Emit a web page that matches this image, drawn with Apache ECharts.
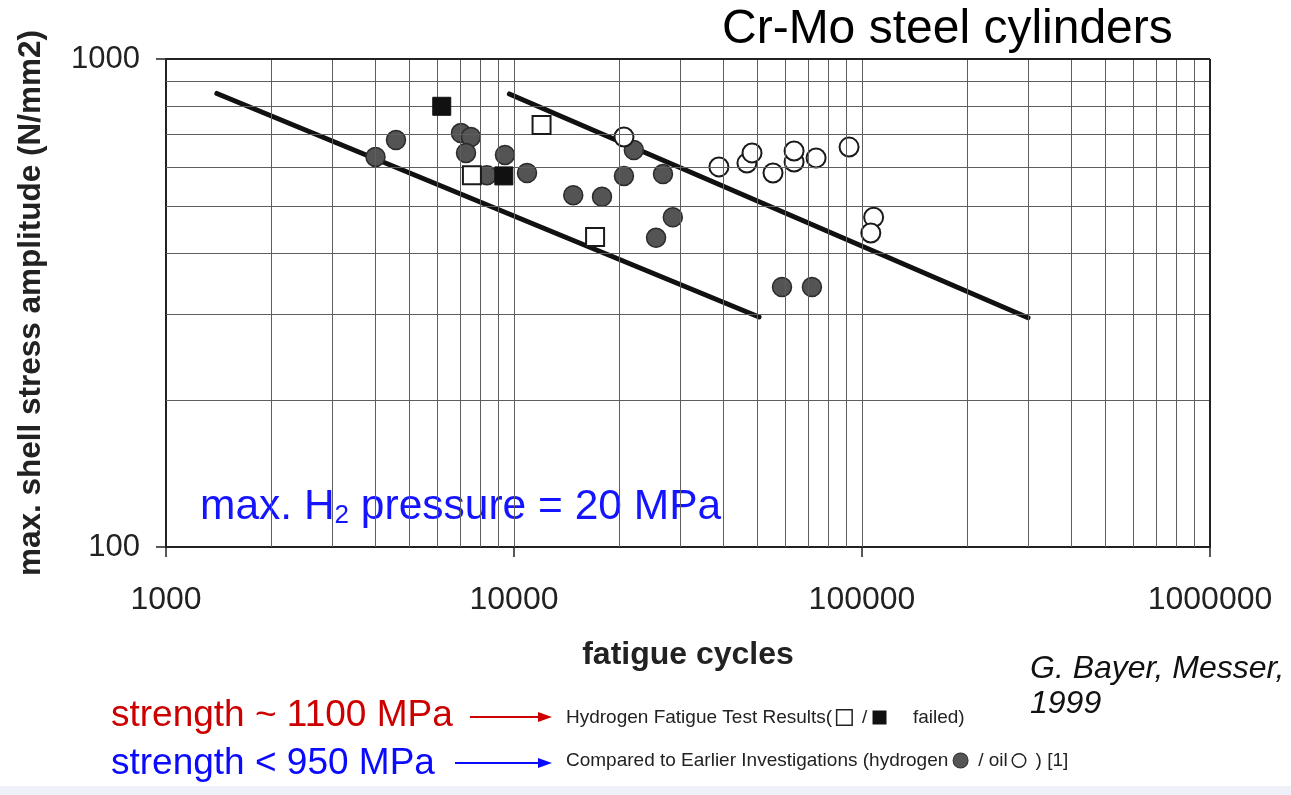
<!DOCTYPE html>
<html>
<head>
<meta charset="utf-8">
<script src="https://cdn.jsdelivr.net/npm/echarts@6/dist/echarts.min.js"></script>
<style>
  html, body { margin: 0; padding: 0; background: #ffffff; }
  #chart { width: 1291px; height: 795px; }
</style>
</head>
<body>
<div id="chart"></div>
<script>
// Axis ticks and grid positions (fatigue cycles, stress amplitude in N/mm2)
const xTickValues = [1000, 10000, 100000, 1000000];
const yTickValues = [100, 1000];
const xGridValues = [2000, 3000, 4000, 5000, 6000, 7000, 8000, 9000, 10000,
  20000, 30000, 40000, 50000, 60000, 70000, 80000, 90000, 100000,
  200000, 300000, 400000, 500000, 600000, 700000, 800000, 900000];
const yGridValues = [200, 300, 400, 500, 600, 700, 800, 900];

// Hydrogen fatigue test results: failed (filled) and open squares
const failedSquares = [[6200, 800], [9350, 576]];
const testSquares = [[7570, 578], [12000, 732], [17100, 432]];

// Earlier investigations: hydrogen (grey) and oil (open) circles
const hydrogenCircles = [
  [4000, 630], [4580, 682], [7040, 705], [7520, 692], [7280, 642],
  [8360, 578], [9420, 636], [10900, 584], [14800, 526], [17900, 522],
  [20700, 576], [22100, 651], [26800, 581], [28600, 474], [25600, 430],
  [58900, 341], [71800, 341]
];
const oilCircles = [
  [20700, 692], [38800, 601], [46700, 612], [48300, 642], [55500, 584],
  [63800, 615], [63800, 648], [73800, 627], [91800, 660], [108000, 474],
  [106000, 440]
];

// Scatter band boundaries
const lowerBand = [[1400, 850], [50600, 296]];
const upperBand = [[9700, 848], [300000, 295]];

const FONT = '"Liberation Sans", Arial, Helvetica, sans-serif';

const chart = echarts.init(document.getElementById('chart'), null, { renderer: 'canvas' });

const gridLines = []
  .concat(xGridValues.map(v => ({ xAxis: v })))
  .concat(yGridValues.map(v => ({ yAxis: v })))
  .concat([
    { yAxis: 1000, lineStyle: { color: '#222', width: 2 } },
    { xAxis: 1000000, lineStyle: { color: '#222', width: 2 } }
  ]);

const option = {
  backgroundColor: '#ffffff',
  animation: false,
  grid: { left: 166, top: 59, width: 1044, height: 488, containLabel: false },
  xAxis: {
    type: 'log',
    logBase: 10,
    min: xTickValues[0],
    max: xTickValues[xTickValues.length - 1],
    axisLine: { show: true, onZero: false, lineStyle: { color: '#222', width: 2 } },
    axisTick: { show: true, inside: false, length: 10, lineStyle: { color: '#222', width: 1.5 } },
    axisLabel: {
      color: '#222', fontFamily: FONT, fontSize: 32, margin: 37,
      formatter: v => String(Math.round(v))
    },
    splitLine: { show: false },
    name: 'fatigue cycles',
    nameLocation: 'middle',
    nameGap: 92,
    nameTextStyle: { color: '#222', fontFamily: FONT, fontSize: 32, fontWeight: 'bold' }
  },
  yAxis: {
    type: 'log',
    logBase: 10,
    min: yTickValues[0],
    max: yTickValues[yTickValues.length - 1],
    axisLine: { show: true, onZero: false, lineStyle: { color: '#222', width: 2 } },
    axisTick: { show: true, inside: false, length: 10, lineStyle: { color: '#222', width: 1.5 } },
    axisLabel: {
      color: '#222', fontFamily: FONT, fontSize: 31, margin: 26,
      formatter: v => String(Math.round(v))
    },
    splitLine: { show: false },
    name: 'max. shell stress amplitude (N/mm2)',
    nameLocation: 'middle',
    nameRotate: 90,
    nameGap: 119,
    nameTextStyle: { color: '#222', fontFamily: FONT, fontSize: 31.5, fontWeight: 'bold' }
  },
  series: [
    {
      name: 'grid',
      type: 'scatter',
      data: [],
      silent: true,
      z: 1,
      markLine: {
        silent: true,
        symbol: 'none',
        animation: false,
        label: { show: false },
        lineStyle: { color: '#5e5e5e', width: 1, type: 'solid' },
        data: gridLines
      }
    },
    {
      name: 'lower band',
      type: 'line',
      data: lowerBand,
      symbol: 'none',
      z: 3,
      lineStyle: { color: '#111', width: 5, cap: 'round' }
    },
    {
      name: 'upper band',
      type: 'line',
      data: upperBand,
      symbol: 'none',
      z: 3,
      lineStyle: { color: '#111', width: 5, cap: 'round' }
    },
    {
      name: 'hydrogen',
      type: 'scatter',
      data: hydrogenCircles,
      symbol: 'circle',
      symbolSize: 19,
      z: 4,
      itemStyle: { color: '#545454', borderColor: '#2b2b2b', borderWidth: 1.5, opacity: 1 }
    },
    {
      name: 'oil',
      type: 'scatter',
      data: oilCircles,
      symbol: 'circle',
      symbolSize: 19,
      z: 4,
      itemStyle: { color: '#ffffff', borderColor: '#1a1a1a', borderWidth: 2, opacity: 1 }
    },
    {
      name: 'hydrogen test',
      type: 'scatter',
      data: testSquares,
      symbol: 'rect',
      symbolSize: 18,
      z: 5,
      itemStyle: { color: '#ffffff', borderColor: '#1a1a1a', borderWidth: 2, opacity: 1 }
    },
    {
      name: 'failed',
      type: 'scatter',
      data: failedSquares,
      symbol: 'rect',
      symbolSize: 18,
      z: 5,
      itemStyle: { color: '#111111', borderColor: '#111111', borderWidth: 1, opacity: 1 }
    }
  ],
  graphic: [
    {
      type: 'rect', left: 0, top: 786, z: -10, silent: true,
      shape: { width: 1291, height: 9 },
      style: { fill: '#eef1f7' }
    },
    {
      type: 'text', left: 722, top: 6,
      style: { text: 'Cr-Mo steel cylinders', fill: '#000', font: '48px ' + FONT }
    },
    {
      type: 'text', left: 200, top: 486,
      style: {
        text: 'max. H{sub|2} pressure = 20 MPa',
        fill: '#1414ff',
        font: '42.5px ' + FONT,
        rich: {
          sub: { fontSize: 26, fontFamily: FONT, fill: '#1414ff', color: '#1414ff', verticalAlign: 'bottom', padding: [16, 0, 0, 0] }
        }
      }
    },
    {
      type: 'text', left: 1030, top: 652,
      style: { text: 'G. Bayer, Messer,\n1999', fill: '#111', font: 'italic 32px ' + FONT, lineHeight: 35 }
    },
    {
      type: 'text', left: 111, top: 697,
      style: { text: 'strength ~ 1100 MPa', fill: '#cc0000', font: '37px ' + FONT }
    },
    {
      type: 'text', left: 111, top: 745,
      style: { text: 'strength < 950 MPa', fill: '#0a0aff', font: '37px ' + FONT }
    },
    {
      type: 'line', silent: true,
      shape: { x1: 470, y1: 717, x2: 540, y2: 717 },
      style: { stroke: '#cc0000', lineWidth: 2 }
    },
    {
      type: 'polygon', silent: true,
      shape: { points: [[538, 712], [552, 717], [538, 722]] },
      style: { fill: '#cc0000' }
    },
    {
      type: 'line', silent: true,
      shape: { x1: 455, y1: 763, x2: 540, y2: 763 },
      style: { stroke: '#0a0aff', lineWidth: 2 }
    },
    {
      type: 'polygon', silent: true,
      shape: { points: [[538, 758], [552, 763], [538, 768]] },
      style: { fill: '#0a0aff' }
    },
    {
      type: 'text', left: 566, top: 708,
      style: {
        text: 'Hydrogen Fatigue Test Results( {o|}  / {f|}     failed)',
        fill: '#222', font: '19px ' + FONT,
        rich: {
          o: { width: 14, height: 14, borderColor: '#222', borderWidth: 1.5, backgroundColor: '#fff' },
          f: { width: 14, height: 14, backgroundColor: '#111' }
        }
      }
    },
    {
      type: 'text', left: 566, top: 751,
      style: {
        text: 'Compared to Earlier Investigations (hydrogen {g|}  / oil {w|}  ) [1]',
        fill: '#222', font: '19px ' + FONT,
        rich: {
          g: { width: 14, height: 14, borderRadius: 7, backgroundColor: '#555', borderColor: '#333', borderWidth: 1 },
          w: { width: 12, height: 12, borderRadius: 6, borderColor: '#222', borderWidth: 1.5, backgroundColor: '#fff' }
        }
      }
    }
  ]
};

chart.setOption(option);
</script>
</body>
</html>
